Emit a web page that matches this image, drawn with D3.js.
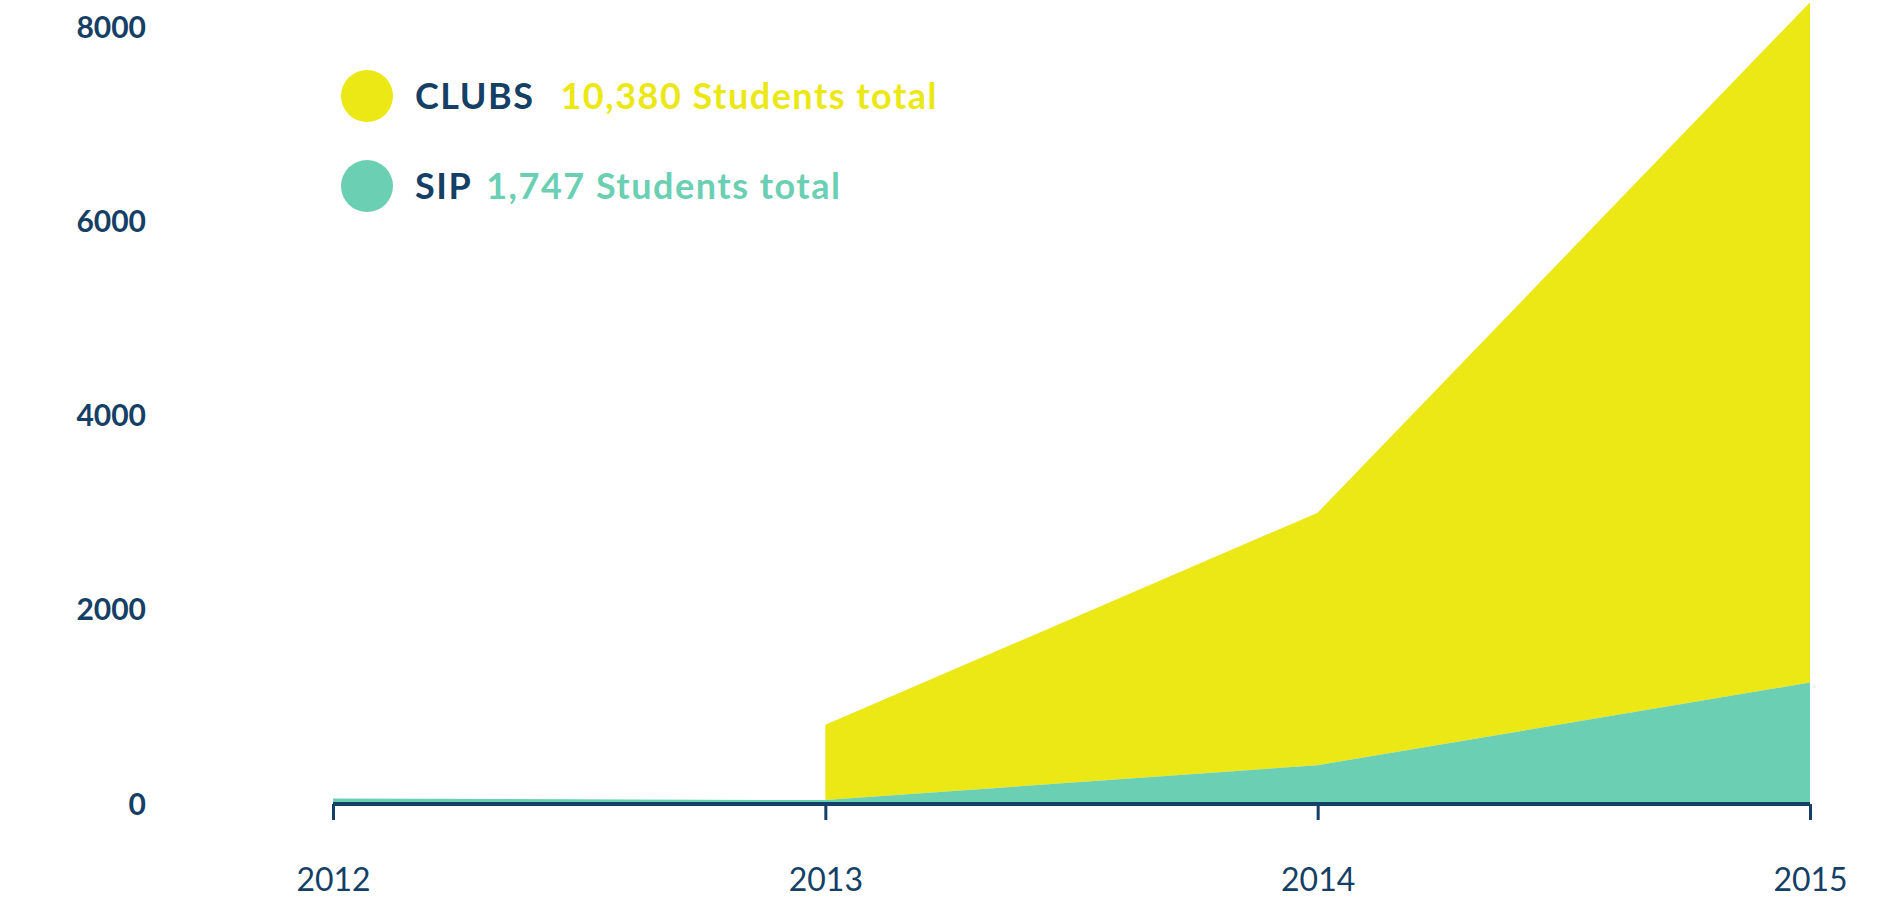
<!DOCTYPE html>
<html><head><meta charset="utf-8">
<script src="https://cdnjs.cloudflare.com/ajax/libs/d3/7.8.5/d3.min.js"></script>
<style>body{margin:0;background:#fff}</style></head>
<body><svg id="c" width="1900" height="900"></svg>
<script>
const years = [2012, 2013, 2014, 2015];
const sip = [57, 40, 400, 1250];
const clubs = [null, 775, 2600, 7005];
const yTicks = [0, 2000, 4000, 6000, 8000];
const navy = "#163F66", yellow = "#EBE815", teal = "#6BCFB3";
const font = "Lato, 'Open Sans', sans-serif";

const svg = d3.select("#c");
const x = d3.scaleLinear().domain([2012, 2015]).range([333, 1810]);
const y = d3.scaleLinear().domain([0, 8000]).range([804, 27]);

const data = years.map((yr, i) => ({yr, sip: sip[i], clubs: clubs[i]}));

svg.append("path").datum(data.filter(d => d.clubs !== null))
  .attr("fill", yellow)
  .attr("d", d3.area().x(d => x(d.yr)).y0(d => y(d.sip)).y1(d => y(d.sip + d.clubs)));
svg.append("path").datum(data)
  .attr("fill", teal)
  .attr("d", d3.area().x(d => x(d.yr)).y0(y(0)).y1(d => y(d.sip)));

const xa = svg.append("g").attr("transform", `translate(0,${y(0)})`)
  .call(d3.axisBottom(x).tickValues(years).tickFormat(d3.format("d")).tickSize(16).tickPadding(48));
xa.select(".domain").attr("stroke", navy).attr("stroke-width", 4).attr("d", `M${x(2012)},0H${x(2015)}`);
xa.selectAll(".tick line").attr("stroke", navy).attr("stroke-width", 3);
xa.selectAll("text").attr("fill", navy).attr("font-family", font).attr("font-size", 32);

svg.append("g").selectAll("text").data(yTicks).join("text")
  .attr("x", 146).attr("y", d => y(d)).attr("dy", "0.35em").attr("text-anchor", "end")
  .attr("fill", navy).attr("font-family", font).attr("font-weight", "bold").attr("font-size", 30)
  .text(d => d);

const legend = [
  {name: "CLUBS", total: "10,380 Students total", color: yellow, cy: 96, gap: 26},
  {name: "SIP", total: "1,747 Students total", color: teal, cy: 186, gap: 14}
];
legend.forEach(l => {
  svg.append("circle").attr("cx", 367).attr("cy", l.cy).attr("r", 26).attr("fill", l.color);
  const t = svg.append("text").attr("x", 415).attr("y", l.cy).attr("dy", "0.35em")
    .attr("font-family", font).attr("font-weight", "bold").attr("font-size", 36).attr("letter-spacing", 1.5);
  t.append("tspan").attr("fill", navy).text(l.name);
  t.append("tspan").attr("fill", l.color).attr("dx", l.gap).text(l.total);
});
</script></body></html>
